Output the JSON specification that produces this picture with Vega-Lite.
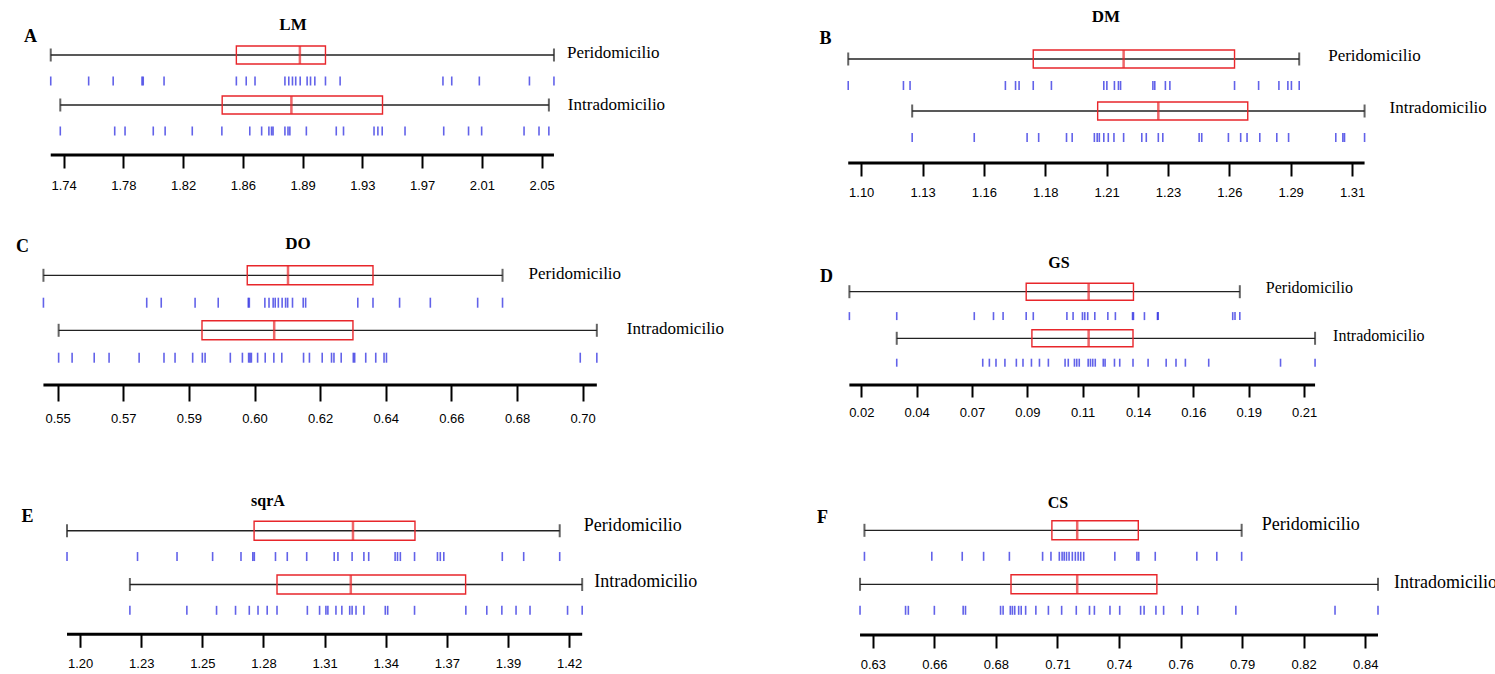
{
"$schema": "https://vega.github.io/schema/vega-lite/v6.json",
"background": "white",
"padding": {"left": 15, "top": 8, "right": 0, "bottom": 0},
"config": {"view": {"stroke": null}, "axis": {"grid": false}},
"datasets": {
"summary": [
{"panel":"A","group":"Peridomicilio","min":1.7308,"q1":1.8512,"median":1.8924,"q3":1.9090,"max":2.0572},
{"panel":"A","group":"Intradomicilio","min":1.7370,"q1":1.8420,"median":1.8869,"q3":1.9460,"max":2.0539},
{"panel":"B","group":"Peridomicilio","min":1.0985,"q1":1.1769,"median":1.2152,"q3":1.2622,"max":1.2896},
{"panel":"B","group":"Intradomicilio","min":1.1256,"q1":1.2042,"median":1.2299,"q3":1.2678,"max":1.3173},
{"panel":"C","group":"Peridomicilio","min":0.5436,"q1":0.6026,"median":0.6144,"q3":0.6390,"max":0.6765},
{"panel":"C","group":"Intradomicilio","min":0.5480,"q1":0.5895,"median":0.6104,"q3":0.6332,"max":0.7038},
{"panel":"D","group":"Peridomicilio","min":0.0122,"q1":0.0895,"median":0.1168,"q3":0.1364,"max":0.1829},
{"panel":"D","group":"Intradomicilio","min":0.0329,"q1":0.0920,"median":0.1168,"q3":0.1362,"max":0.2158},
{"panel":"E","group":"Peridomicilio","min":1.1920,"q1":1.2777,"median":1.3230,"q3":1.3514,"max":1.4177},
{"panel":"E","group":"Intradomicilio","min":1.2208,"q1":1.2882,"median":1.3220,"q3":1.3746,"max":1.4280},
{"panel":"F","group":"Peridomicilio","min":0.6272,"q1":0.7079,"median":0.7188,"q3":0.7451,"max":0.7896},
{"panel":"F","group":"Intradomicilio","min":0.6253,"q1":0.6903,"median":0.7188,"q3":0.7531,"max":0.8483}
],
"obs": [
{"panel":"A","group":"Peridomicilio","value":1.7308},{"panel":"A","group":"Peridomicilio","value":1.7554},{"panel":"A","group":"Peridomicilio","value":1.7713},{"panel":"A","group":"Peridomicilio","value":1.7900},{"panel":"A","group":"Peridomicilio","value":1.7908},{"panel":"A","group":"Peridomicilio","value":1.8043},{"panel":"A","group":"Peridomicilio","value":1.8512},{"panel":"A","group":"Peridomicilio","value":1.8576},{"panel":"A","group":"Peridomicilio","value":1.8633},{"panel":"A","group":"Peridomicilio","value":1.8827},{"panel":"A","group":"Peridomicilio","value":1.8852},{"panel":"A","group":"Peridomicilio","value":1.8876},{"panel":"A","group":"Peridomicilio","value":1.8897},{"panel":"A","group":"Peridomicilio","value":1.8926},{"panel":"A","group":"Peridomicilio","value":1.8971},{"panel":"A","group":"Peridomicilio","value":1.8993},{"panel":"A","group":"Peridomicilio","value":1.9021},{"panel":"A","group":"Peridomicilio","value":1.9090},{"panel":"A","group":"Peridomicilio","value":1.9185},{"panel":"A","group":"Peridomicilio","value":1.9852},{"panel":"A","group":"Peridomicilio","value":1.9909},{"panel":"A","group":"Peridomicilio","value":2.0088},{"panel":"A","group":"Peridomicilio","value":2.0413},{"panel":"A","group":"Peridomicilio","value":2.0572},
{"panel":"A","group":"Intradomicilio","value":1.7370},{"panel":"A","group":"Intradomicilio","value":1.7723},{"panel":"A","group":"Intradomicilio","value":1.7790},{"panel":"A","group":"Intradomicilio","value":1.7973},{"panel":"A","group":"Intradomicilio","value":1.8050},{"panel":"A","group":"Intradomicilio","value":1.8226},{"panel":"A","group":"Intradomicilio","value":1.8418},{"panel":"A","group":"Intradomicilio","value":1.8599},{"panel":"A","group":"Intradomicilio","value":1.8676},{"panel":"A","group":"Intradomicilio","value":1.8723},{"panel":"A","group":"Intradomicilio","value":1.8740},{"panel":"A","group":"Intradomicilio","value":1.8750},{"panel":"A","group":"Intradomicilio","value":1.8827},{"panel":"A","group":"Intradomicilio","value":1.8847},{"panel":"A","group":"Intradomicilio","value":1.8859},{"panel":"A","group":"Intradomicilio","value":1.8966},{"panel":"A","group":"Intradomicilio","value":1.9160},{"panel":"A","group":"Intradomicilio","value":1.9207},{"panel":"A","group":"Intradomicilio","value":1.9405},{"panel":"A","group":"Intradomicilio","value":1.9430},{"panel":"A","group":"Intradomicilio","value":1.9458},{"panel":"A","group":"Intradomicilio","value":1.9606},{"panel":"A","group":"Intradomicilio","value":1.9857},{"panel":"A","group":"Intradomicilio","value":2.0018},{"panel":"A","group":"Intradomicilio","value":2.0103},{"panel":"A","group":"Intradomicilio","value":2.0378},{"panel":"A","group":"Intradomicilio","value":2.0475},{"panel":"A","group":"Intradomicilio","value":2.0539},
{"panel":"B","group":"Peridomicilio","value":1.0985},{"panel":"B","group":"Peridomicilio","value":1.1219},{"panel":"B","group":"Peridomicilio","value":1.1247},{"panel":"B","group":"Peridomicilio","value":1.1651},{"panel":"B","group":"Peridomicilio","value":1.1694},{"panel":"B","group":"Peridomicilio","value":1.1709},{"panel":"B","group":"Peridomicilio","value":1.1769},{"panel":"B","group":"Peridomicilio","value":1.1846},{"panel":"B","group":"Peridomicilio","value":1.2068},{"panel":"B","group":"Peridomicilio","value":1.2081},{"panel":"B","group":"Peridomicilio","value":1.2113},{"panel":"B","group":"Peridomicilio","value":1.2130},{"panel":"B","group":"Peridomicilio","value":1.2139},{"panel":"B","group":"Peridomicilio","value":1.2276},{"panel":"B","group":"Peridomicilio","value":1.2284},{"panel":"B","group":"Peridomicilio","value":1.2329},{"panel":"B","group":"Peridomicilio","value":1.2348},{"panel":"B","group":"Peridomicilio","value":1.2622},{"panel":"B","group":"Peridomicilio","value":1.2724},{"panel":"B","group":"Peridomicilio","value":1.2810},{"panel":"B","group":"Peridomicilio","value":1.2848},{"panel":"B","group":"Peridomicilio","value":1.2863},{"panel":"B","group":"Peridomicilio","value":1.2896},
{"panel":"B","group":"Intradomicilio","value":1.1256},{"panel":"B","group":"Intradomicilio","value":1.1519},{"panel":"B","group":"Intradomicilio","value":1.1743},{"panel":"B","group":"Intradomicilio","value":1.1792},{"panel":"B","group":"Intradomicilio","value":1.1910},{"panel":"B","group":"Intradomicilio","value":1.1934},{"panel":"B","group":"Intradomicilio","value":1.2028},{"panel":"B","group":"Intradomicilio","value":1.2040},{"panel":"B","group":"Intradomicilio","value":1.2049},{"panel":"B","group":"Intradomicilio","value":1.2068},{"panel":"B","group":"Intradomicilio","value":1.2087},{"panel":"B","group":"Intradomicilio","value":1.2111},{"panel":"B","group":"Intradomicilio","value":1.2152},{"panel":"B","group":"Intradomicilio","value":1.2229},{"panel":"B","group":"Intradomicilio","value":1.2248},{"panel":"B","group":"Intradomicilio","value":1.2299},{"panel":"B","group":"Intradomicilio","value":1.2318},{"panel":"B","group":"Intradomicilio","value":1.2472},{"panel":"B","group":"Intradomicilio","value":1.2483},{"panel":"B","group":"Intradomicilio","value":1.2596},{"panel":"B","group":"Intradomicilio","value":1.2648},{"panel":"B","group":"Intradomicilio","value":1.2675},{"panel":"B","group":"Intradomicilio","value":1.2729},{"panel":"B","group":"Intradomicilio","value":1.2801},{"panel":"B","group":"Intradomicilio","value":1.2851},{"panel":"B","group":"Intradomicilio","value":1.3051},{"panel":"B","group":"Intradomicilio","value":1.3081},{"panel":"B","group":"Intradomicilio","value":1.3088},{"panel":"B","group":"Intradomicilio","value":1.3173},
{"panel":"C","group":"Peridomicilio","value":0.5436},{"panel":"C","group":"Peridomicilio","value":0.5735},{"panel":"C","group":"Peridomicilio","value":0.5777},{"panel":"C","group":"Peridomicilio","value":0.5875},{"panel":"C","group":"Peridomicilio","value":0.5942},{"panel":"C","group":"Peridomicilio","value":0.6029},{"panel":"C","group":"Peridomicilio","value":0.6032},{"panel":"C","group":"Peridomicilio","value":0.6077},{"panel":"C","group":"Peridomicilio","value":0.6089},{"panel":"C","group":"Peridomicilio","value":0.6101},{"panel":"C","group":"Peridomicilio","value":0.6107},{"panel":"C","group":"Peridomicilio","value":0.6116},{"panel":"C","group":"Peridomicilio","value":0.6127},{"panel":"C","group":"Peridomicilio","value":0.6137},{"panel":"C","group":"Peridomicilio","value":0.6143},{"panel":"C","group":"Peridomicilio","value":0.6157},{"panel":"C","group":"Peridomicilio","value":0.6188},{"panel":"C","group":"Peridomicilio","value":0.6195},{"panel":"C","group":"Peridomicilio","value":0.6346},{"panel":"C","group":"Peridomicilio","value":0.6390},{"panel":"C","group":"Peridomicilio","value":0.6467},{"panel":"C","group":"Peridomicilio","value":0.6556},{"panel":"C","group":"Peridomicilio","value":0.6693},{"panel":"C","group":"Peridomicilio","value":0.6765},
{"panel":"C","group":"Intradomicilio","value":0.5480},{"panel":"C","group":"Intradomicilio","value":0.5519},{"panel":"C","group":"Intradomicilio","value":0.5583},{"panel":"C","group":"Intradomicilio","value":0.5626},{"panel":"C","group":"Intradomicilio","value":0.5713},{"panel":"C","group":"Intradomicilio","value":0.5785},{"panel":"C","group":"Intradomicilio","value":0.5817},{"panel":"C","group":"Intradomicilio","value":0.5868},{"panel":"C","group":"Intradomicilio","value":0.5896},{"panel":"C","group":"Intradomicilio","value":0.5904},{"panel":"C","group":"Intradomicilio","value":0.5977},{"panel":"C","group":"Intradomicilio","value":0.6012},{"panel":"C","group":"Intradomicilio","value":0.6030},{"panel":"C","group":"Intradomicilio","value":0.6034},{"panel":"C","group":"Intradomicilio","value":0.6038},{"panel":"C","group":"Intradomicilio","value":0.6056},{"panel":"C","group":"Intradomicilio","value":0.6078},{"panel":"C","group":"Intradomicilio","value":0.6103},{"panel":"C","group":"Intradomicilio","value":0.6126},{"panel":"C","group":"Intradomicilio","value":0.6189},{"panel":"C","group":"Intradomicilio","value":0.6206},{"panel":"C","group":"Intradomicilio","value":0.6243},{"panel":"C","group":"Intradomicilio","value":0.6270},{"panel":"C","group":"Intradomicilio","value":0.6277},{"panel":"C","group":"Intradomicilio","value":0.6298},{"panel":"C","group":"Intradomicilio","value":0.6333},{"panel":"C","group":"Intradomicilio","value":0.6337},{"panel":"C","group":"Intradomicilio","value":0.6369},{"panel":"C","group":"Intradomicilio","value":0.6398},{"panel":"C","group":"Intradomicilio","value":0.6422},{"panel":"C","group":"Intradomicilio","value":0.6429},{"panel":"C","group":"Intradomicilio","value":0.6990},{"panel":"C","group":"Intradomicilio","value":0.7038},
{"panel":"D","group":"Peridomicilio","value":0.0122},{"panel":"D","group":"Peridomicilio","value":0.0329},{"panel":"D","group":"Peridomicilio","value":0.0668},{"panel":"D","group":"Peridomicilio","value":0.0752},{"panel":"D","group":"Peridomicilio","value":0.0794},{"panel":"D","group":"Peridomicilio","value":0.0895},{"panel":"D","group":"Peridomicilio","value":0.0926},{"panel":"D","group":"Peridomicilio","value":0.1073},{"panel":"D","group":"Peridomicilio","value":0.1100},{"panel":"D","group":"Peridomicilio","value":0.1141},{"panel":"D","group":"Peridomicilio","value":0.1151},{"panel":"D","group":"Peridomicilio","value":0.1164},{"panel":"D","group":"Peridomicilio","value":0.1195},{"panel":"D","group":"Peridomicilio","value":0.1252},{"panel":"D","group":"Peridomicilio","value":0.1285},{"panel":"D","group":"Peridomicilio","value":0.1360},{"panel":"D","group":"Peridomicilio","value":0.1364},{"panel":"D","group":"Peridomicilio","value":0.1412},{"panel":"D","group":"Peridomicilio","value":0.1469},{"panel":"D","group":"Peridomicilio","value":0.1472},{"panel":"D","group":"Peridomicilio","value":0.1798},{"panel":"D","group":"Peridomicilio","value":0.1808},{"panel":"D","group":"Peridomicilio","value":0.1829},
{"panel":"D","group":"Intradomicilio","value":0.0329},{"panel":"D","group":"Intradomicilio","value":0.0705},{"panel":"D","group":"Intradomicilio","value":0.0734},{"panel":"D","group":"Intradomicilio","value":0.0763},{"panel":"D","group":"Intradomicilio","value":0.0802},{"panel":"D","group":"Intradomicilio","value":0.0852},{"panel":"D","group":"Intradomicilio","value":0.0881},{"panel":"D","group":"Intradomicilio","value":0.0918},{"panel":"D","group":"Intradomicilio","value":0.0953},{"panel":"D","group":"Intradomicilio","value":0.0992},{"panel":"D","group":"Intradomicilio","value":0.1065},{"panel":"D","group":"Intradomicilio","value":0.1079},{"panel":"D","group":"Intradomicilio","value":0.1106},{"panel":"D","group":"Intradomicilio","value":0.1116},{"panel":"D","group":"Intradomicilio","value":0.1127},{"panel":"D","group":"Intradomicilio","value":0.1166},{"panel":"D","group":"Intradomicilio","value":0.1176},{"panel":"D","group":"Intradomicilio","value":0.1186},{"panel":"D","group":"Intradomicilio","value":0.1197},{"panel":"D","group":"Intradomicilio","value":0.1232},{"panel":"D","group":"Intradomicilio","value":0.1240},{"panel":"D","group":"Intradomicilio","value":0.1281},{"panel":"D","group":"Intradomicilio","value":0.1304},{"panel":"D","group":"Intradomicilio","value":0.1362},{"panel":"D","group":"Intradomicilio","value":0.1428},{"panel":"D","group":"Intradomicilio","value":0.1507},{"panel":"D","group":"Intradomicilio","value":0.1550},{"panel":"D","group":"Intradomicilio","value":0.1591},{"panel":"D","group":"Intradomicilio","value":0.1693},{"panel":"D","group":"Intradomicilio","value":0.2007},{"panel":"D","group":"Intradomicilio","value":0.2158},
{"panel":"E","group":"Peridomicilio","value":1.1920},{"panel":"E","group":"Peridomicilio","value":1.2243},{"panel":"E","group":"Peridomicilio","value":1.2424},{"panel":"E","group":"Peridomicilio","value":1.2587},{"panel":"E","group":"Peridomicilio","value":1.2717},{"panel":"E","group":"Peridomicilio","value":1.2771},{"panel":"E","group":"Peridomicilio","value":1.2778},{"panel":"E","group":"Peridomicilio","value":1.2875},{"panel":"E","group":"Peridomicilio","value":1.2929},{"panel":"E","group":"Peridomicilio","value":1.3018},{"panel":"E","group":"Peridomicilio","value":1.3144},{"panel":"E","group":"Peridomicilio","value":1.3161},{"panel":"E","group":"Peridomicilio","value":1.3226},{"panel":"E","group":"Peridomicilio","value":1.3280},{"panel":"E","group":"Peridomicilio","value":1.3302},{"panel":"E","group":"Peridomicilio","value":1.3423},{"panel":"E","group":"Peridomicilio","value":1.3434},{"panel":"E","group":"Peridomicilio","value":1.3447},{"panel":"E","group":"Peridomicilio","value":1.3512},{"panel":"E","group":"Peridomicilio","value":1.3617},{"panel":"E","group":"Peridomicilio","value":1.3630},{"panel":"E","group":"Peridomicilio","value":1.3646},{"panel":"E","group":"Peridomicilio","value":1.3914},{"panel":"E","group":"Peridomicilio","value":1.4012},{"panel":"E","group":"Peridomicilio","value":1.4177},
{"panel":"E","group":"Intradomicilio","value":1.2208},{"panel":"E","group":"Intradomicilio","value":1.2469},{"panel":"E","group":"Intradomicilio","value":1.2605},{"panel":"E","group":"Intradomicilio","value":1.2692},{"panel":"E","group":"Intradomicilio","value":1.2755},{"panel":"E","group":"Intradomicilio","value":1.2795},{"panel":"E","group":"Intradomicilio","value":1.2837},{"panel":"E","group":"Intradomicilio","value":1.2882},{"panel":"E","group":"Intradomicilio","value":1.3021},{"panel":"E","group":"Intradomicilio","value":1.3077},{"panel":"E","group":"Intradomicilio","value":1.3106},{"panel":"E","group":"Intradomicilio","value":1.3115},{"panel":"E","group":"Intradomicilio","value":1.3152},{"panel":"E","group":"Intradomicilio","value":1.3179},{"panel":"E","group":"Intradomicilio","value":1.3215},{"panel":"E","group":"Intradomicilio","value":1.3226},{"panel":"E","group":"Intradomicilio","value":1.3244},{"panel":"E","group":"Intradomicilio","value":1.3280},{"panel":"E","group":"Intradomicilio","value":1.3378},{"panel":"E","group":"Intradomicilio","value":1.3389},{"panel":"E","group":"Intradomicilio","value":1.3512},{"panel":"E","group":"Intradomicilio","value":1.3747},{"panel":"E","group":"Intradomicilio","value":1.3843},{"panel":"E","group":"Intradomicilio","value":1.3912},{"panel":"E","group":"Intradomicilio","value":1.3977},{"panel":"E","group":"Intradomicilio","value":1.4041},{"panel":"E","group":"Intradomicilio","value":1.4213},{"panel":"E","group":"Intradomicilio","value":1.4280},
{"panel":"F","group":"Peridomicilio","value":0.6272},{"panel":"F","group":"Peridomicilio","value":0.6562},{"panel":"F","group":"Peridomicilio","value":0.6693},{"panel":"F","group":"Peridomicilio","value":0.6785},{"panel":"F","group":"Peridomicilio","value":0.6896},{"panel":"F","group":"Peridomicilio","value":0.7039},{"panel":"F","group":"Peridomicilio","value":0.7075},{"panel":"F","group":"Peridomicilio","value":0.7111},{"panel":"F","group":"Peridomicilio","value":0.7123},{"panel":"F","group":"Peridomicilio","value":0.7132},{"panel":"F","group":"Peridomicilio","value":0.7142},{"panel":"F","group":"Peridomicilio","value":0.7153},{"panel":"F","group":"Peridomicilio","value":0.7167},{"panel":"F","group":"Peridomicilio","value":0.7180},{"panel":"F","group":"Peridomicilio","value":0.7192},{"panel":"F","group":"Peridomicilio","value":0.7203},{"panel":"F","group":"Peridomicilio","value":0.7216},{"panel":"F","group":"Peridomicilio","value":0.7350},{"panel":"F","group":"Peridomicilio","value":0.7445},{"panel":"F","group":"Peridomicilio","value":0.7453},{"panel":"F","group":"Peridomicilio","value":0.7524},{"panel":"F","group":"Peridomicilio","value":0.7703},{"panel":"F","group":"Peridomicilio","value":0.7789},{"panel":"F","group":"Peridomicilio","value":0.7896},
{"panel":"F","group":"Intradomicilio","value":0.6253},{"panel":"F","group":"Intradomicilio","value":0.6449},{"panel":"F","group":"Intradomicilio","value":0.6461},{"panel":"F","group":"Intradomicilio","value":0.6573},{"panel":"F","group":"Intradomicilio","value":0.6697},{"panel":"F","group":"Intradomicilio","value":0.6707},{"panel":"F","group":"Intradomicilio","value":0.6858},{"panel":"F","group":"Intradomicilio","value":0.6869},{"panel":"F","group":"Intradomicilio","value":0.6900},{"panel":"F","group":"Intradomicilio","value":0.6909},{"panel":"F","group":"Intradomicilio","value":0.6919},{"panel":"F","group":"Intradomicilio","value":0.6936},{"panel":"F","group":"Intradomicilio","value":0.6947},{"panel":"F","group":"Intradomicilio","value":0.6966},{"panel":"F","group":"Intradomicilio","value":0.7010},{"panel":"F","group":"Intradomicilio","value":0.7064},{"panel":"F","group":"Intradomicilio","value":0.7121},{"panel":"F","group":"Intradomicilio","value":0.7184},{"panel":"F","group":"Intradomicilio","value":0.7241},{"panel":"F","group":"Intradomicilio","value":0.7262},{"panel":"F","group":"Intradomicilio","value":0.7329},{"panel":"F","group":"Intradomicilio","value":0.7371},{"panel":"F","group":"Intradomicilio","value":0.7461},{"panel":"F","group":"Intradomicilio","value":0.7476},{"panel":"F","group":"Intradomicilio","value":0.7527},{"panel":"F","group":"Intradomicilio","value":0.7560},{"panel":"F","group":"Intradomicilio","value":0.7640},{"panel":"F","group":"Intradomicilio","value":0.7707},{"panel":"F","group":"Intradomicilio","value":0.7871},{"panel":"F","group":"Intradomicilio","value":0.8298},{"panel":"F","group":"Intradomicilio","value":0.8483}
]
},
"columns": 2,
"spacing": {"row": 88, "column": 220},
"bounds": "flush",
"concat": [
{
"width": 580, "height": 124,
"title": {"text":"LM","anchor":"middle","frame":"group","baseline":"middle","offset":0,"dx":-28,"dy":15,"font":"Liberation Serif","fontSize":17,"fontWeight":"bold","color":"black"},
"layer": [
{"data":{"name":"summary"},"transform":[{"filter":"datum.panel=='A'"}],"mark":{"type":"rule","color":"#222222","strokeWidth":1.3},
"encoding":{"x":{"field":"min","type":"quantitative","scale":{"domain":[1.7180,2.0942],"nice":false,"zero":false},"axis":{"title":null,"values":[1.7392,1.77795,1.8167,1.85545,1.8942,1.93295,1.9717,2.01045,2.0492],"format":".2f","domain":false,"grid":false,"tickSize":13,"tickWidth":2,"tickColor":"black","labelFont":"Liberation Sans","labelFontSize":13,"labelColor":"black","labelPadding":11}},
"x2":{"field":"max"},
"y":{"field":"group","type":"nominal","scale":{"type":"point","domain":["Peridomicilio","Intradomicilio"],"padding":0.74,"align":0.3243},"axis":{"title":"A","labels":false,"ticks":false,"domain":false,"grid":false,"titleAngle":0,"titleAlign":"center","titleBaseline":"middle","titleX":-1,"titleY":5,"titleFont":"Liberation Serif","titleFontSize":18,"titleFontWeight":"bold","titleColor":"black","titlePadding":0}}}},
{"data":{"name":"summary"},"transform":[{"filter":"datum.panel=='A'"}],"mark":{"type":"tick","color":"#222222","size":13,"thickness":2},"encoding":{"x":{"field":"min","type":"quantitative"},"y":{"field":"group","type":"nominal"}}},
{"data":{"name":"summary"},"transform":[{"filter":"datum.panel=='A'"}],"mark":{"type":"tick","color":"#222222","size":13,"thickness":2},"encoding":{"x":{"field":"max","type":"quantitative"},"y":{"field":"group","type":"nominal"}}},
{"data":{"name":"summary"},"transform":[{"filter":"datum.panel=='A'"}],"mark":{"type":"bar","size":18,"fill":"transparent","stroke":"#e8262b","strokeWidth":1.4},"encoding":{"x":{"field":"q1","type":"quantitative"},"x2":{"field":"q3"},"y":{"field":"group","type":"nominal"}}},
{"data":{"name":"summary"},"transform":[{"filter":"datum.panel=='A'"}],"mark":{"type":"tick","color":"#e8262b","size":18,"thickness":2.5},"encoding":{"x":{"field":"median","type":"quantitative"},"y":{"field":"group","type":"nominal"}}},
{"data":{"name":"obs"},"transform":[{"filter":"datum.panel=='A'"}],"mark":{"type":"tick","color":"#1f1fe0","size":9,"thickness":1.6,"yOffset":26},"encoding":{"x":{"field":"value","type":"quantitative"},"y":{"field":"group","type":"nominal"}}},
{"data":{"name":"summary"},"transform":[{"filter":"datum.panel=='A' && datum.group=='Peridomicilio'"}],"mark":{"type":"text","align":"left","baseline":"middle","dx":13,"dy":-2,"font":"Liberation Serif","fontSize":17,"color":"black"},"encoding":{"x":{"field":"max","type":"quantitative"},"y":{"field":"group","type":"nominal"},"text":{"field":"group"}}},
{"data":{"name":"summary"},"transform":[{"filter":"datum.panel=='A' && datum.group=='Intradomicilio'"}],"mark":{"type":"text","align":"left","baseline":"middle","dx":19,"font":"Liberation Serif","fontSize":17,"color":"black"},"encoding":{"x":{"field":"max","type":"quantitative"},"y":{"field":"group","type":"nominal"},"text":{"field":"group"}}},
{"data":{"name":"summary"},"transform":[{"filter":"datum.panel=='A'"},{"aggregate":[{"op":"min","field":"min","as":"lo"},{"op":"max","field":"max","as":"hi"}]}],"mark":{"type":"rule","color":"black","strokeWidth":3},"encoding":{"x":{"field":"lo","type":"quantitative"},"x2":{"field":"hi"},"y":{"value":"height"}}}
]
},
{
"width": 560, "height": 132,
"title": {"text":"DM","anchor":"middle","frame":"group","baseline":"middle","offset":0,"dx":-5,"dy":5,"font":"Liberation Serif","fontSize":17,"fontWeight":"bold","color":"black"},
"layer": [
{"data":{"name":"summary"},"transform":[{"filter":"datum.panel=='B'"}],"mark":{"type":"rule","color":"#222222","strokeWidth":1.3},
"encoding":{"x":{"field":"min","type":"quantitative","scale":{"domain":[1.0912,1.3285],"nice":false,"zero":false},"axis":{"title":null,"values":[1.104,1.130,1.156,1.182,1.208,1.234,1.260,1.286,1.312],"format":".2f","domain":false,"grid":false,"tickSize":13,"tickWidth":2,"tickColor":"black","labelFont":"Liberation Sans","labelFontSize":13,"labelColor":"black","labelPadding":10}},
"x2":{"field":"max"},
"y":{"field":"group","type":"nominal","scale":{"type":"point","domain":["Peridomicilio","Intradomicilio"],"padding":0.7692,"align":0.35},"axis":{"title":"B","labels":false,"ticks":false,"domain":false,"grid":false,"titleAngle":0,"titleAlign":"center","titleBaseline":"middle","titleX":-6,"titleY":7,"titleFont":"Liberation Serif","titleFontSize":18,"titleFontWeight":"bold","titleColor":"black","titlePadding":0}}}},
{"data":{"name":"summary"},"transform":[{"filter":"datum.panel=='B'"}],"mark":{"type":"tick","color":"#222222","size":13,"thickness":2},"encoding":{"x":{"field":"min","type":"quantitative"},"y":{"field":"group","type":"nominal"}}},
{"data":{"name":"summary"},"transform":[{"filter":"datum.panel=='B'"}],"mark":{"type":"tick","color":"#222222","size":13,"thickness":2},"encoding":{"x":{"field":"max","type":"quantitative"},"y":{"field":"group","type":"nominal"}}},
{"data":{"name":"summary"},"transform":[{"filter":"datum.panel=='B'"}],"mark":{"type":"bar","size":18,"fill":"transparent","stroke":"#e8262b","strokeWidth":1.4},"encoding":{"x":{"field":"q1","type":"quantitative"},"x2":{"field":"q3"},"y":{"field":"group","type":"nominal"}}},
{"data":{"name":"summary"},"transform":[{"filter":"datum.panel=='B'"}],"mark":{"type":"tick","color":"#e8262b","size":18,"thickness":2.5},"encoding":{"x":{"field":"median","type":"quantitative"},"y":{"field":"group","type":"nominal"}}},
{"data":{"name":"obs"},"transform":[{"filter":"datum.panel=='B'"}],"mark":{"type":"tick","color":"#1f1fe0","size":9,"thickness":1.6,"yOffset":26.5},"encoding":{"x":{"field":"value","type":"quantitative"},"y":{"field":"group","type":"nominal"}}},
{"data":{"name":"summary"},"transform":[{"filter":"datum.panel=='B' && datum.group=='Peridomicilio'"}],"mark":{"type":"text","align":"left","baseline":"middle","dx":29,"dy":-3,"font":"Liberation Serif","fontSize":17,"color":"black"},"encoding":{"x":{"field":"max","type":"quantitative"},"y":{"field":"group","type":"nominal"},"text":{"field":"group"}}},
{"data":{"name":"summary"},"transform":[{"filter":"datum.panel=='B' && datum.group=='Intradomicilio'"}],"mark":{"type":"text","align":"left","baseline":"middle","dx":25,"dy":-3,"font":"Liberation Serif","fontSize":17,"color":"black"},"encoding":{"x":{"field":"max","type":"quantitative"},"y":{"field":"group","type":"nominal"},"text":{"field":"group"}}},
{"data":{"name":"summary"},"transform":[{"filter":"datum.panel=='B'"},{"aggregate":[{"op":"min","field":"min","as":"lo"},{"op":"max","field":"max","as":"hi"}]}],"mark":{"type":"rule","color":"black","strokeWidth":3},"encoding":{"x":{"field":"lo","type":"quantitative"},"x2":{"field":"hi"},"y":{"value":"height"}}}
]
},
{
"width": 580, "height": 134,
"title": {"text":"DO","anchor":"middle","frame":"group","baseline":"middle","offset":0,"dx":-23,"dy":24,"font":"Liberation Serif","fontSize":17,"fontWeight":"bold","color":"black"},
"layer": [
{"data":{"name":"summary"},"transform":[{"filter":"datum.panel=='C'"}],"mark":{"type":"rule","color":"#222222","strokeWidth":1.3},
"encoding":{"x":{"field":"min","type":"quantitative","scale":{"domain":[0.5400,0.7079],"nice":false,"zero":false},"axis":{"title":null,"values":[0.5477,0.5667,0.5857,0.6047,0.6237,0.6427,0.6617,0.6807,0.6997],"format":".2f","domain":false,"grid":false,"tickSize":16,"tickWidth":2,"tickColor":"black","labelFont":"Liberation Sans","labelFontSize":13,"labelColor":"black","labelPadding":11.5}},
"x2":{"field":"max"},
"y":{"field":"group","type":"nominal","scale":{"type":"point","domain":["Peridomicilio","Intradomicilio"],"padding":0.7182,"align":0.3076},"axis":{"title":"C","labels":false,"ticks":false,"domain":false,"grid":false,"titleAngle":0,"titleAlign":"center","titleBaseline":"middle","titleX":-9,"titleY":-5,"titleFont":"Liberation Serif","titleFontSize":18,"titleFontWeight":"bold","titleColor":"black","titlePadding":0}}}},
{"data":{"name":"summary"},"transform":[{"filter":"datum.panel=='C'"}],"mark":{"type":"tick","color":"#222222","size":13,"thickness":2},"encoding":{"x":{"field":"min","type":"quantitative"},"y":{"field":"group","type":"nominal"}}},
{"data":{"name":"summary"},"transform":[{"filter":"datum.panel=='C'"}],"mark":{"type":"tick","color":"#222222","size":13,"thickness":2},"encoding":{"x":{"field":"max","type":"quantitative"},"y":{"field":"group","type":"nominal"}}},
{"data":{"name":"summary"},"transform":[{"filter":"datum.panel=='C'"}],"mark":{"type":"bar","size":19,"fill":"transparent","stroke":"#e8262b","strokeWidth":1.4},"encoding":{"x":{"field":"q1","type":"quantitative"},"x2":{"field":"q3"},"y":{"field":"group","type":"nominal"}}},
{"data":{"name":"summary"},"transform":[{"filter":"datum.panel=='C'"}],"mark":{"type":"tick","color":"#e8262b","size":19,"thickness":2.5},"encoding":{"x":{"field":"median","type":"quantitative"},"y":{"field":"group","type":"nominal"}}},
{"data":{"name":"obs"},"transform":[{"filter":"datum.panel=='C'"}],"mark":{"type":"tick","color":"#1f1fe0","size":10,"thickness":1.6,"yOffset":27.4},"encoding":{"x":{"field":"value","type":"quantitative"},"y":{"field":"group","type":"nominal"}}},
{"data":{"name":"summary"},"transform":[{"filter":"datum.panel=='C' && datum.group=='Peridomicilio'"}],"mark":{"type":"text","align":"left","baseline":"middle","dx":26,"dy":-1,"font":"Liberation Serif","fontSize":17,"color":"black"},"encoding":{"x":{"field":"max","type":"quantitative"},"y":{"field":"group","type":"nominal"},"text":{"field":"group"}}},
{"data":{"name":"summary"},"transform":[{"filter":"datum.panel=='C' && datum.group=='Intradomicilio'"}],"mark":{"type":"text","align":"left","baseline":"middle","dx":30,"dy":-1,"font":"Liberation Serif","fontSize":17,"color":"black"},"encoding":{"x":{"field":"max","type":"quantitative"},"y":{"field":"group","type":"nominal"},"text":{"field":"group"}}},
{"data":{"name":"summary"},"transform":[{"filter":"datum.panel=='C'"},{"aggregate":[{"op":"min","field":"min","as":"lo"},{"op":"max","field":"max","as":"hi"}]}],"mark":{"type":"rule","color":"black","strokeWidth":3},"encoding":{"x":{"field":"lo","type":"quantitative"},"x2":{"field":"hi"},"y":{"value":"height"}}}
]
},
{
"width": 560, "height": 134,
"title": {"text":"GS","anchor":"middle","frame":"group","baseline":"middle","offset":0,"dx":-52,"dy":28.4,"font":"Liberation Serif","fontSize":16,"fontWeight":"bold","color":"black"},
"layer": [
{"data":{"name":"summary"},"transform":[{"filter":"datum.panel=='D'"}],"mark":{"type":"rule","color":"#222222","strokeWidth":1.3},
"encoding":{"x":{"field":"min","type":"quantitative","scale":{"domain":[0.00416,0.2490],"nice":false,"zero":false},"axis":{"title":null,"values":[0.0174,0.0416,0.0658,0.0900,0.1142,0.1384,0.1626,0.1868,0.2110],"format":".2f","domain":false,"grid":false,"tickSize":12,"tickWidth":2,"tickColor":"black","labelFont":"Liberation Sans","labelFontSize":13,"labelColor":"black","labelPadding":9.5}},
"x2":{"field":"max"},
"y":{"field":"group","type":"nominal","scale":{"type":"point","domain":["Peridomicilio","Intradomicilio"],"padding":0.9378,"align":0.4657},"axis":{"title":"D","labels":false,"ticks":false,"domain":false,"grid":false,"titleAngle":0,"titleAlign":"center","titleBaseline":"middle","titleX":-5,"titleY":25.5,"titleFont":"Liberation Serif","titleFontSize":18,"titleFontWeight":"bold","titleColor":"black","titlePadding":0}}}},
{"data":{"name":"summary"},"transform":[{"filter":"datum.panel=='D'"}],"mark":{"type":"tick","color":"#222222","size":13,"thickness":2},"encoding":{"x":{"field":"min","type":"quantitative"},"y":{"field":"group","type":"nominal"}}},
{"data":{"name":"summary"},"transform":[{"filter":"datum.panel=='D'"}],"mark":{"type":"tick","color":"#222222","size":13,"thickness":2},"encoding":{"x":{"field":"max","type":"quantitative"},"y":{"field":"group","type":"nominal"}}},
{"data":{"name":"summary"},"transform":[{"filter":"datum.panel=='D'"}],"mark":{"type":"bar","size":17,"fill":"transparent","stroke":"#e8262b","strokeWidth":1.4},"encoding":{"x":{"field":"q1","type":"quantitative"},"x2":{"field":"q3"},"y":{"field":"group","type":"nominal"}}},
{"data":{"name":"summary"},"transform":[{"filter":"datum.panel=='D'"}],"mark":{"type":"tick","color":"#e8262b","size":17,"thickness":2.5},"encoding":{"x":{"field":"median","type":"quantitative"},"y":{"field":"group","type":"nominal"}}},
{"data":{"name":"obs"},"transform":[{"filter":"datum.panel=='D'"}],"mark":{"type":"tick","color":"#1f1fe0","size":8,"thickness":1.6,"yOffset":24.4},"encoding":{"x":{"field":"value","type":"quantitative"},"y":{"field":"group","type":"nominal"}}},
{"data":{"name":"summary"},"transform":[{"filter":"datum.panel=='D' && datum.group=='Peridomicilio'"}],"mark":{"type":"text","align":"left","baseline":"middle","dx":26,"dy":-4,"font":"Liberation Serif","fontSize":16,"color":"black"},"encoding":{"x":{"field":"max","type":"quantitative"},"y":{"field":"group","type":"nominal"},"text":{"field":"group"}}},
{"data":{"name":"summary"},"transform":[{"filter":"datum.panel=='D' && datum.group=='Intradomicilio'"}],"mark":{"type":"text","align":"left","baseline":"middle","dx":18,"dy":-2,"font":"Liberation Serif","fontSize":16,"color":"black"},"encoding":{"x":{"field":"max","type":"quantitative"},"y":{"field":"group","type":"nominal"},"text":{"field":"group"}}},
{"data":{"name":"summary"},"transform":[{"filter":"datum.panel=='D'"},{"aggregate":[{"op":"min","field":"min","as":"lo"},{"op":"max","field":"max","as":"hi"}]}],"mark":{"type":"rule","color":"black","strokeWidth":3},"encoding":{"x":{"field":"lo","type":"quantitative"},"x2":{"field":"hi"},"y":{"value":"height"}}}
]
},
{
"width": 580, "height": 161.3,
"title": {"text":"sqrA","anchor":"middle","frame":"group","baseline":"middle","offset":0,"dx":-53,"dy":44,"font":"Liberation Serif","fontSize":16,"fontWeight":"bold","color":"black"},
"layer": [
{"data":{"name":"summary"},"transform":[{"filter":"datum.panel=='E'"}],"mark":{"type":"rule","color":"#222222","strokeWidth":1.3},
"encoding":{"x":{"field":"min","type":"quantitative","scale":{"domain":[1.1755,1.4412],"nice":false,"zero":false},"axis":{"title":null,"values":[1.198,1.226,1.254,1.282,1.310,1.338,1.366,1.394,1.422],"format":".2f","domain":false,"grid":false,"tickSize":13,"tickWidth":2,"tickColor":"black","labelFont":"Liberation Sans","labelFontSize":13,"labelColor":"black","labelPadding":10.5}},
"x2":{"field":"max"},
"y":{"field":"group","type":"nominal","scale":{"type":"point","domain":["Peridomicilio","Intradomicilio"],"padding":1.051,"align":0.537},"axis":{"title":"E","labels":false,"ticks":false,"domain":false,"grid":false,"titleAngle":0,"titleAlign":"center","titleBaseline":"middle","titleX":-4,"titleY":43,"titleFont":"Liberation Serif","titleFontSize":18,"titleFontWeight":"bold","titleColor":"black","titlePadding":0}}}},
{"data":{"name":"summary"},"transform":[{"filter":"datum.panel=='E'"}],"mark":{"type":"tick","color":"#222222","size":13,"thickness":2},"encoding":{"x":{"field":"min","type":"quantitative"},"y":{"field":"group","type":"nominal"}}},
{"data":{"name":"summary"},"transform":[{"filter":"datum.panel=='E'"}],"mark":{"type":"tick","color":"#222222","size":13,"thickness":2},"encoding":{"x":{"field":"max","type":"quantitative"},"y":{"field":"group","type":"nominal"}}},
{"data":{"name":"summary"},"transform":[{"filter":"datum.panel=='E'"}],"mark":{"type":"bar","size":19,"fill":"transparent","stroke":"#e8262b","strokeWidth":1.4},"encoding":{"x":{"field":"q1","type":"quantitative"},"x2":{"field":"q3"},"y":{"field":"group","type":"nominal"}}},
{"data":{"name":"summary"},"transform":[{"filter":"datum.panel=='E'"}],"mark":{"type":"tick","color":"#e8262b","size":19,"thickness":2.5},"encoding":{"x":{"field":"median","type":"quantitative"},"y":{"field":"group","type":"nominal"}}},
{"data":{"name":"obs"},"transform":[{"filter":"datum.panel=='E'"}],"mark":{"type":"tick","color":"#1f1fe0","size":9,"thickness":1.6,"yOffset":25.8},"encoding":{"x":{"field":"value","type":"quantitative"},"y":{"field":"group","type":"nominal"}}},
{"data":{"name":"summary"},"transform":[{"filter":"datum.panel=='E' && datum.group=='Peridomicilio'"}],"mark":{"type":"text","align":"left","baseline":"middle","dx":24,"dy":-5,"font":"Liberation Serif","fontSize":18,"color":"black"},"encoding":{"x":{"field":"max","type":"quantitative"},"y":{"field":"group","type":"nominal"},"text":{"field":"group"}}},
{"data":{"name":"summary"},"transform":[{"filter":"datum.panel=='E' && datum.group=='Intradomicilio'"}],"mark":{"type":"text","align":"left","baseline":"middle","dx":12,"dy":-3,"font":"Liberation Serif","fontSize":18,"color":"black"},"encoding":{"x":{"field":"max","type":"quantitative"},"y":{"field":"group","type":"nominal"},"text":{"field":"group"}}},
{"data":{"name":"summary"},"transform":[{"filter":"datum.panel=='E'"},{"aggregate":[{"op":"min","field":"min","as":"lo"},{"op":"max","field":"max","as":"hi"}]}],"mark":{"type":"rule","color":"black","strokeWidth":3},"encoding":{"x":{"field":"lo","type":"quantitative"},"x2":{"field":"hi"},"y":{"value":"height"}}}
]
},
{
"width": 560, "height": 162,
"title": {"text":"CS","anchor":"middle","frame":"group","baseline":"middle","offset":0,"dx":-53,"dy":46,"font":"Liberation Serif","fontSize":16,"fontWeight":"bold","color":"black"},
"layer": [
{"data":{"name":"summary"},"transform":[{"filter":"datum.panel=='F'"}],"mark":{"type":"rule","color":"#222222","strokeWidth":1.3},
"encoding":{"x":{"field":"min","type":"quantitative","scale":{"domain":[0.6128,0.8539],"nice":false,"zero":false},"axis":{"title":null,"values":[0.6308,0.6573,0.6838,0.7103,0.7368,0.7633,0.7898,0.8163,0.8428],"format":".2f","domain":false,"grid":false,"tickSize":13,"tickWidth":2,"tickColor":"black","labelFont":"Liberation Sans","labelFontSize":13,"labelColor":"black","labelPadding":10}},
"x2":{"field":"max"},
"y":{"field":"group","type":"nominal","scale":{"type":"point","domain":["Peridomicilio","Intradomicilio"],"padding":1.037,"align":0.5307},"axis":{"title":"F","labels":false,"ticks":false,"domain":false,"grid":false,"titleAngle":0,"titleAlign":"center","titleBaseline":"middle","titleX":-9,"titleY":44,"titleFont":"Liberation Serif","titleFontSize":18,"titleFontWeight":"bold","titleColor":"black","titlePadding":0}}}},
{"data":{"name":"summary"},"transform":[{"filter":"datum.panel=='F'"}],"mark":{"type":"tick","color":"#222222","size":13,"thickness":2},"encoding":{"x":{"field":"min","type":"quantitative"},"y":{"field":"group","type":"nominal"}}},
{"data":{"name":"summary"},"transform":[{"filter":"datum.panel=='F'"}],"mark":{"type":"tick","color":"#222222","size":13,"thickness":2},"encoding":{"x":{"field":"max","type":"quantitative"},"y":{"field":"group","type":"nominal"}}},
{"data":{"name":"summary"},"transform":[{"filter":"datum.panel=='F'"}],"mark":{"type":"bar","size":19,"fill":"transparent","stroke":"#e8262b","strokeWidth":1.4},"encoding":{"x":{"field":"q1","type":"quantitative"},"x2":{"field":"q3"},"y":{"field":"group","type":"nominal"}}},
{"data":{"name":"summary"},"transform":[{"filter":"datum.panel=='F'"}],"mark":{"type":"tick","color":"#e8262b","size":19,"thickness":2.5},"encoding":{"x":{"field":"median","type":"quantitative"},"y":{"field":"group","type":"nominal"}}},
{"data":{"name":"obs"},"transform":[{"filter":"datum.panel=='F'"}],"mark":{"type":"tick","color":"#1f1fe0","size":9,"thickness":1.6,"yOffset":26},"encoding":{"x":{"field":"value","type":"quantitative"},"y":{"field":"group","type":"nominal"}}},
{"data":{"name":"summary"},"transform":[{"filter":"datum.panel=='F' && datum.group=='Peridomicilio'"}],"mark":{"type":"text","align":"left","baseline":"middle","dx":20,"dy":-5,"font":"Liberation Serif","fontSize":18,"color":"black"},"encoding":{"x":{"field":"max","type":"quantitative"},"y":{"field":"group","type":"nominal"},"text":{"field":"group"}}},
{"data":{"name":"summary"},"transform":[{"filter":"datum.panel=='F' && datum.group=='Intradomicilio'"}],"mark":{"type":"text","align":"left","baseline":"middle","dx":16,"dy":-1,"font":"Liberation Serif","fontSize":18,"color":"black"},"encoding":{"x":{"field":"max","type":"quantitative"},"y":{"field":"group","type":"nominal"},"text":{"field":"group"}}},
{"data":{"name":"summary"},"transform":[{"filter":"datum.panel=='F'"},{"aggregate":[{"op":"min","field":"min","as":"lo"},{"op":"max","field":"max","as":"hi"}]}],"mark":{"type":"rule","color":"black","strokeWidth":3},"encoding":{"x":{"field":"lo","type":"quantitative"},"x2":{"field":"hi"},"y":{"value":"height"}}}
]
}
]
}
